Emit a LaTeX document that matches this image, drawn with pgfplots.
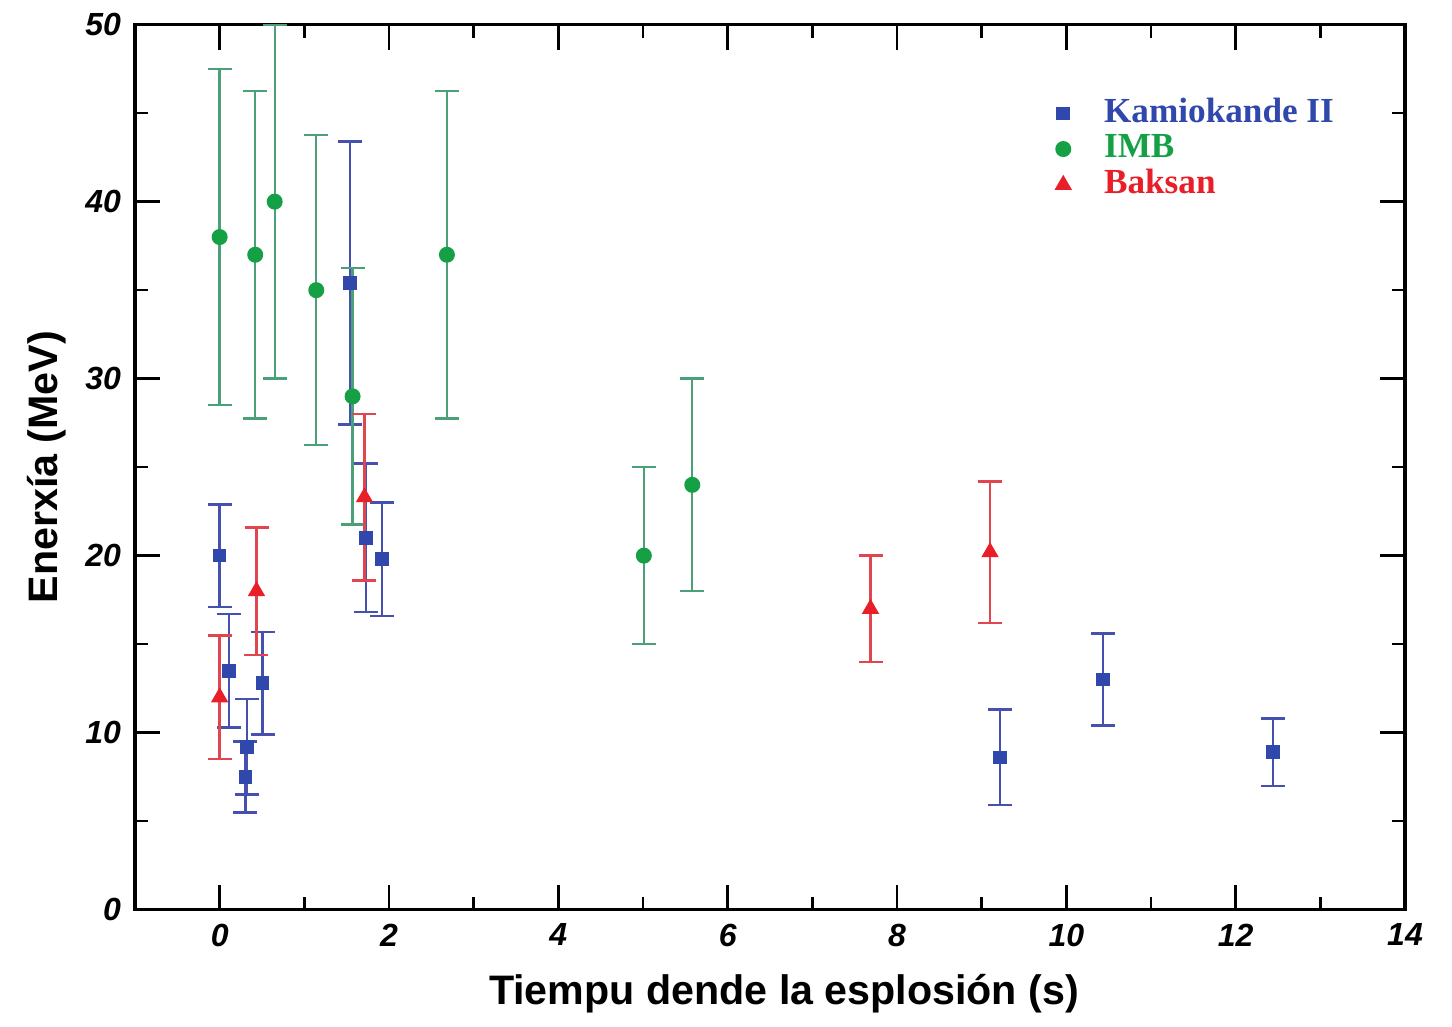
\documentclass[border=0pt]{standalone}
\usepackage{fontspec}
\setmainfont{Liberation Sans}
\newfontfamily\legfont{Liberation Serif}
\usepackage{pgfplots}
\usepackage{pgfplotstable}
\pgfplotsset{compat=1.18}
\definecolor{kblue}{RGB}{48,72,172}
\definecolor{kbar}{RGB}{70,80,175}
\definecolor{igreen}{RGB}{22,160,70}
\definecolor{ibar}{RGB}{75,160,120}
\definecolor{bred}{RGB}{232,30,40}
\definecolor{bbar}{RGB}{225,70,80}

\pgfplotstableread{
t    E     ep   em
0.000 20.0 2.9 2.9
0.107 13.5 3.2 3.2
0.303 7.5  2.0 2.0
0.324 9.2  2.7 2.7
0.507 12.8 2.9 2.9
1.541 35.4 8.0 8.0
1.728 21.0 4.2 4.2
1.915 19.8 3.2 3.2
9.219 8.6  2.7 2.7
10.433 13.0 2.6 2.6
12.439 8.9 1.9 1.9
}\kam

\pgfplotstableread{
t    E     ep   em
0.000 38.0 9.5 9.5
0.420 37.0 9.25 9.25
0.650 40.0 10.0 10.0
1.141 35.0 8.75 8.75
1.570 29.0 7.25 7.25
2.684 37.0 9.25 9.25
5.010 20.0 5.0 5.0
5.582 24.0 6.0 6.0
}\imb

\pgfplotstableread{
t    E     ep   em
0.000 12.0 3.5 3.5
0.435 18.0 3.6 3.6
1.710 23.3 4.7 4.7
7.687 17.0 3.0 3.0
9.099 20.2 4.0 4.0
}\bak

\begin{document}
\begin{tikzpicture}
\begin{axis}[
  name=ax,
  scale only axis,
  width=317.5pt, height=221.25pt,
  xmin=-1, xmax=14, ymin=0, ymax=50,
  xtick={0,2,...,14}, ytick={0,10,...,50},
  minor x tick num=1, minor y tick num=1,
  major tick length=6.25pt, minor tick length=3.25pt,
  tick style={line width=0.6pt, black},
  axis line style={line width=0.8pt},
  /pgf/number format/assume math mode=true,
  ticklabel style={font=\fontsize{8}{9}\selectfont\bfseries\itshape},
  xlabel={Tiempu dende la esplosión (s)},
  ylabel={Enerxía (MeV)},
  label style={font=\fontsize{10.3}{12}\selectfont\bfseries},
  xlabel style={xshift=3.5pt},
  ylabel style={yshift=-2pt},
  legend style={draw=none, fill=none, at={(0.695,0.936)}, anchor=north west,
    font=\fontsize{8.8}{9}\selectfont\legfont\bfseries, row sep=-2.5pt},
  legend cell align=left,
  legend image code/.code={\path (0pt,0pt) (16pt,0pt);\draw[#1] plot coordinates {(8pt,0pt)};},
]
\addplot[only marks, mark=square*, mark size=1.5pt, color=kblue,
  error bars/.cd, y dir=both, y explicit,
  error bar style={color=kbar, line width=0.6pt},
  error mark options={rotate=90, color=kbar, mark size=3pt, line width=0.6pt}]
  table[x=t, y=E, y error plus=ep, y error minus=em]{\kam};
\addlegendentry{\textcolor{kblue}{Kamiokande II}}
\addplot[only marks, mark=*, mark size=1.8pt, color=igreen,
  error bars/.cd, y dir=both, y explicit,
  error bar style={color=ibar, line width=0.6pt},
  error mark options={rotate=90, color=ibar, mark size=3pt, line width=0.6pt}]
  table[x=t, y=E, y error plus=ep, y error minus=em]{\imb};
\addlegendentry{\textcolor{igreen}{IMB}}
\addplot[only marks, mark=triangle*, mark size=2.1pt, color=bred,
  error bars/.cd, y dir=both, y explicit,
  error bar style={color=bbar, line width=0.6pt},
  error mark options={rotate=90, color=bbar, mark size=3pt, line width=0.6pt}]
  table[x=t, y=E, y error plus=ep, y error minus=em]{\bak};
\addlegendentry{\textcolor{bred}{Baksan}}
\end{axis}
\path (ax.south west) ++(-33.75pt,-26.25pt);
\path (ax.north east) ++(11.75pt,5.5pt);
\end{tikzpicture}
\end{document}
